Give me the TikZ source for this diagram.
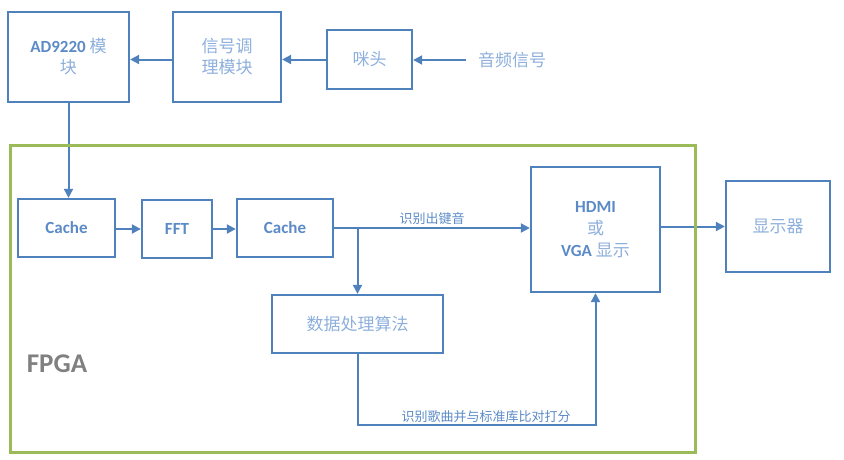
\documentclass[tikz,border=0pt]{standalone}
\usepackage{fontspec}
\setmainfont{Carlito}
\newfontfamily\cjk{Noto Sans CJK SC}
\usepackage{xcolor}
\usepackage{tikz}
\usetikzlibrary{arrows.meta}

\definecolor{boxblue}{HTML}{4F81BD}
\definecolor{txtblue}{HTML}{5B8AC6}
\definecolor{zhblue}{HTML}{8DAFDB}
\definecolor{fpgagreen}{HTML}{9BBB59}
\newcommand{\zh}[1]{{\cjk\mdseries\color{zhblue}#1}}

\tikzset{
  blk/.style={draw=boxblue,line width=2.3pt,inner sep=0pt,align=center,
    text=txtblue,font=\fontsize{17}{23}\selectfont\bfseries},
  arr/.style={draw=boxblue,line width=2pt,-{Triangle[length=9pt,width=9pt]}},
  lbl/.style={text=txtblue,font=\fontsize{13}{15}\selectfont\cjk,inner sep=2pt}
}

\begin{document}
\begin{tikzpicture}[x=1pt,y=-1pt]
\useasboundingbox (0,0) rectangle (844,459);

% top row
\node[blk,minimum width=121pt,minimum height=90pt] (ad) at (68.5,57) {AD9220 \zh{模}\\[-2pt]\zh{块}};
\node[blk,minimum width=108pt,minimum height=90pt] (cond) at (227,57) {\zh{信号调}\\[-2pt]\zh{理模块}};
\node[blk,minimum width=85pt,minimum height=59pt] (mic) at (369.5,59.5) {\zh{咪头}};
\node[inner sep=0pt,font=\fontsize{17}{20}\selectfont] (audio) at (512,60) {\zh{音频信号}};

% FPGA row
\node[blk,minimum width=97pt,minimum height=58pt] (cacheA) at (66.5,228) {Cache};
\node[blk,minimum width=70pt,minimum height=58pt] (fft) at (177,229) {FFT};
\node[blk,minimum width=96pt,minimum height=58pt] (cacheB) at (285,228) {Cache};
\node[blk,minimum width=129pt,minimum height=125pt] (hdmi) at (595.5,229.5) {HDMI\\[-1pt]\zh{或}\\[-1pt]VGA \zh{显示}};
\node[blk,minimum width=104pt,minimum height=91pt] (disp) at (778,226.5) {\zh{显示器}};
\node[blk,minimum width=171pt,minimum height=58pt] (algo) at (357.5,324) {\zh{数据处理算法}};

\node[text=gray,font=\fontsize{27}{30}\selectfont\bfseries] (fpga) at (57,364) {FPGA};

% connectors
\draw[arr,shorten <=12pt] (audio.west) -- (audio.west -| mic.east);
\draw[arr] (mic.west) -- (mic.west -| cond.east);
\draw[arr] (mic.west -| cond.west) -- (mic.west -| ad.east);
\draw[arr] (ad.south) -- (ad.south |- cacheA.north);
\draw[arr] (cacheA.east |- fft.west) -- (fft.west);
\draw[arr] (fft.east) -- (fft.east -| cacheB.west);
\draw[arr] (cacheB.east) -- (cacheB.east -| hdmi.west)
  node[lbl,midway,above] {识别出键音};
\draw[arr] (algo.north |- cacheB.east) -- (algo.north);
\draw[arr] (algo.south) -- ++(0,71) -| node[lbl,pos=0.27,above] {识别歌曲并与标准库比对打分} (hdmi.south);
\draw[arr] (disp.west -| hdmi.east) -- (disp.west);

% FPGA frame
\draw[fpgagreen,line width=3pt] (10,145) rectangle (695,452);

\end{tikzpicture}
\end{document}
